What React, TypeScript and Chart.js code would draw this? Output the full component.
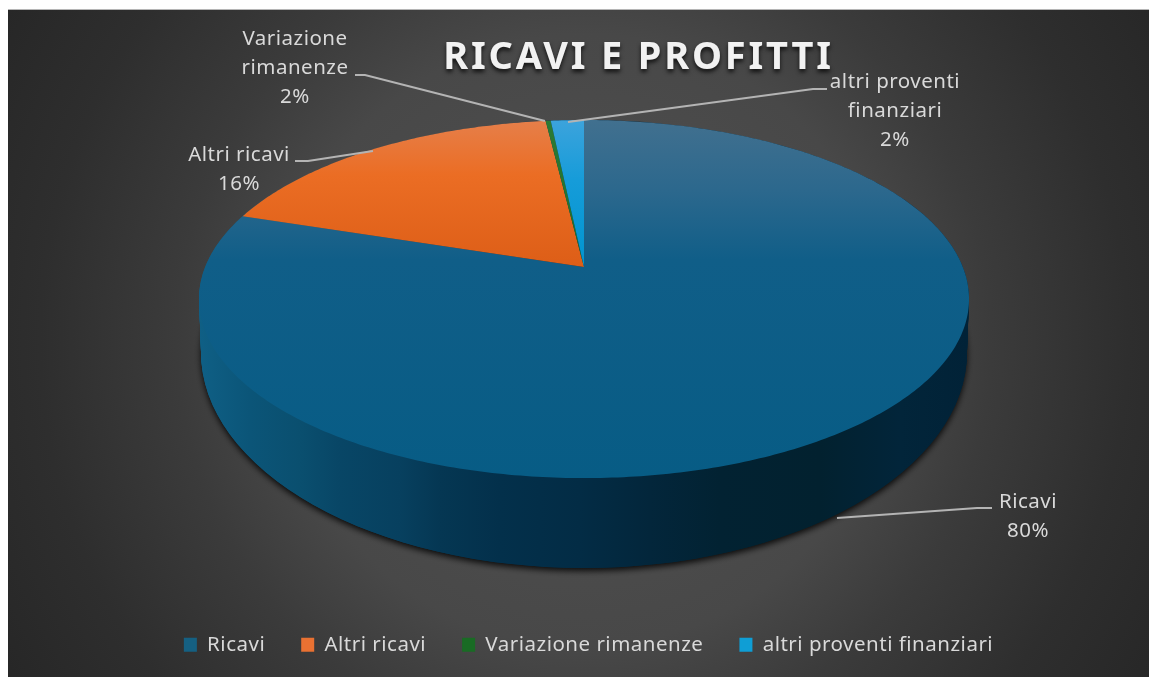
import React, { useEffect, useRef } from "react";
import { Chart, registerables } from "chart.js";

Chart.register(...registerables);

const categories = ["Ricavi", "Altri ricavi", "Variazione rimanenze", "altri proventi finanziari"];
const sliceValues = [80, 18.1, 0.25, 1.65];
const colors = ["#156082", "#E97132", "#196B24", "#0F9ED5"];
const TITLE = "RICAVI E PROFITTI";
const FONT = "'Noto Sans', sans-serif";

const calloutLines = [
  ["Ricavi", "80%"],
  ["Altri ricavi", "16%"],
  ["Variazione", "rimanenze", "2%"],
  ["altri proventi", "finanziari", "2%"],
];
const calloutCenters = [[1028, 502], [239, 155], [295, 39], [895, 82]];
const calloutLeaders = [
  [[992, 508], [977, 508], [837, 518]],
  [[295, 161], [308, 161], [373, 151]],
  [[355, 75], [365, 75], [545, 121]],
  [[827, 89], [813, 89], [568, 122]],
];

const W = 1141;
const H = 667;
const OX = 8;
const OY = 10;
const LABEL_SPACING = "0.5px";

// projection of the pie's disc (page coordinates)
const CX = 584;
const CY = 267;
const R = 378.8;
const K = 173.3;
const P = 0.179;
const project = (a: number): [number, number] => {
  const u = Math.cos(a);
  const v = Math.sin(a);
  const s = 1 / (1 - P * v);
  return [CX + R * u * s, CY + K * v * s];
};

const faceStops: [number, string][][] = [
  [[120, "#41708f"], [190, "#2c688d"], [260, "#105e88"], [480, "#075c85"]],
  [[120, "#e67f4a"], [175, "#eb6d24"], [267, "#dd5e17"]],
  [[120, "#2c7a35"], [267, "#1f6e28"]],
  [[120, "#3ca3dc"], [180, "#169cd9"], [267, "#0095cf"]],
];
const wallStops: [number, string][] = [
  [200, "#0f5f85"], [250, "#0b5578"], [300, "#0a4f6f"], [340, "#084666"], [400, "#07405f"],
  [440, "#053753"], [500, "#03304b"], [580, "#032c45"], [650, "#03263b"], [720, "#022232"],
  [820, "#02212f"], [900, "#02253a"], [970, "#012237"],
];

const scenePlugin = {
  id: "scene",
  beforeLayout(chart: any) {
    chart.ctx.letterSpacing = LABEL_SPACING;
  },
  beforeDraw(chart: any) {
    const { ctx } = chart;
    ctx.letterSpacing = "0px";
    ctx.save();
    ctx.translate(-OX, -OY);
    const g = ctx.createRadialGradient(584, 340, 0, 584, 340, 680);
    g.addColorStop(0, "#525252");
    g.addColorStop(0.45, "#484848");
    g.addColorStop(0.6, "#3b3b3b");
    g.addColorStop(0.8, "#2e2e2e");
    g.addColorStop(1, "#262626");
    ctx.fillStyle = g;
    ctx.fillRect(OX, OY, W, H);
    ctx.restore();
  },
  afterLayout(chart: any) {
    const c = chart.ctx;
    c.letterSpacing = "0px";
    const tb = chart.titleBlock;
    if (tb && !tb.__patched) {
      tb.__patched = true;
      const orig = tb.draw;
      tb.draw = function () {
        c.save();
        c.translate(60, 0);
        c.letterSpacing = "2.8px";
        c.shadowColor = "rgba(0,0,0,0.75)";
        c.shadowBlur = 4;
        c.shadowOffsetY = 3;
        orig.call(tb);
        c.restore();
      };
    }
    const lg = chart.legend;
    if (lg && !lg.__patched) {
      lg.__patched = true;
      const orig = lg.draw;
      lg.draw = function () {
        c.save();
        c.translate(10, 0);
        c.letterSpacing = LABEL_SPACING;
        orig.call(lg);
        c.restore();
      };
    }
  },
  beforeDatasetsDraw(chart: any) {
    const { ctx } = chart;
    const arcs = chart.getDatasetMeta(0).data;
    ctx.save();
    ctx.translate(-OX, -OY);

    // side wall
    const wall = ctx.createLinearGradient(200, 0, 970, 0);
    wallStops.forEach(([x, c]) => wall.addColorStop((x - 200) / 770, c));
    ctx.save();
    ctx.shadowColor = "rgba(0,0,0,0.85)";
    ctx.shadowBlur = 6;
    ctx.shadowOffsetY = 3;
    ctx.fillStyle = wall;
    ctx.beginPath();
    ctx.ellipse(584, 352, 383, 216, 0, 0, Math.PI * 2);
    ctx.fill();
    ctx.restore();
    ctx.fillStyle = wall;
    for (let i = 0; i <= 30; i++) {
      const t = i / 30;
      ctx.beginPath();
      ctx.ellipse(584, 299 + 53 * t, 385 - 2 * t, 179 + 37 * t, 0, 0, Math.PI * 2);
      ctx.fill();
    }

    // top face
    arcs.forEach((arc: any, i: number) => {
      const g = ctx.createLinearGradient(0, 120, 0, 480);
      const stops = faceStops[i];
      stops.forEach(([y, c]) => g.addColorStop((y - 120) / 360, c));
      if (stops[stops.length - 1][0] < 480) g.addColorStop(1, stops[stops.length - 1][1]);
      ctx.fillStyle = g;
      ctx.beginPath();
      ctx.moveTo(CX, CY);
      const n = Math.max(4, Math.ceil((arc.endAngle - arc.startAngle) * 80));
      for (let k = 0; k <= n; k++) {
        const [x, y] = project(arc.startAngle + ((arc.endAngle - arc.startAngle) * k) / n);
        ctx.lineTo(x, y);
      }
      ctx.closePath();
      ctx.fill();
    });
    ctx.restore();
    return false;
  },
  afterDraw(chart: any) {
    const { ctx } = chart;
    ctx.save();
    ctx.translate(-OX, -OY);
    ctx.strokeStyle = "#b4b4b4";
    ctx.lineWidth = 2;
    calloutLeaders.forEach((pts) => {
      ctx.beginPath();
      pts.forEach(([x, y], i) => (i ? ctx.lineTo(x, y) : ctx.moveTo(x, y)));
      ctx.stroke();
    });
    ctx.fillStyle = "#d9d9d9";
    ctx.font = `20.5px ${FONT}`;
    ctx.letterSpacing = LABEL_SPACING;
    ctx.textAlign = "center";
    ctx.textBaseline = "middle";
    calloutLines.forEach((lines, i) => {
      lines.forEach((l, j) => ctx.fillText(l, calloutCenters[i][0], calloutCenters[i][1] + j * 29));
    });
    ctx.restore();
  },
};

export default function App() {
  const ref = useRef<HTMLCanvasElement | null>(null);
  useEffect(() => {
    const chart = new Chart(ref.current as HTMLCanvasElement, {
      type: "pie",
      data: {
        labels: categories,
        datasets: [{ data: sliceValues, backgroundColor: colors, borderWidth: 0 }],
      },
      options: {
        responsive: false,
        animation: false,
        events: [],
        layout: { padding: { bottom: 12 } },
        plugins: {
          title: {
            display: true,
            text: TITLE,
            color: "#f2f2f2",
            font: { family: FONT, size: 38, weight: "bold" },
            padding: { top: 25, bottom: 0 },
          },
          tooltip: { enabled: false },
          legend: {
            position: "bottom",
            labels: {
              color: "#d9d9d9",
              font: { family: FONT, size: 20.5 },
              boxWidth: 13,
              boxHeight: 14,
              padding: 36,
            },
          },
        },
      },
      plugins: [scenePlugin],
    } as any);
    return () => chart.destroy();
  }, []);
  return (
    <div style={{ position: "fixed", left: OX, top: OY - 1, width: W, height: H + 1, borderTop: "1px solid #b5b5b5", boxSizing: "border-box", overflow: "hidden" }}>
      <canvas ref={ref} width={W} height={H} style={{ display: "block" }} />
    </div>
  );
}
